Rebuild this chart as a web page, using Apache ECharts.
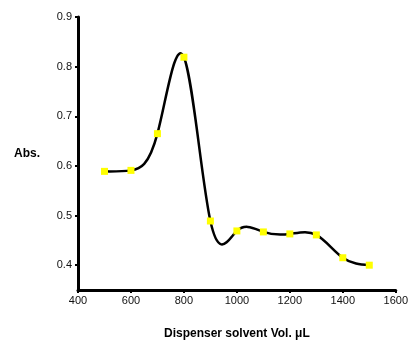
<!DOCTYPE html>
<html><head><meta charset="utf-8">
<script src="https://cdn.jsdelivr.net/npm/echarts@6/dist/echarts.min.js"></script>
<style>html,body{margin:0;padding:0;background:#fff}#c{width:411px;height:345px}</style>
</head><body><div id="c"></div>
<script>
var volumes = [500, 600, 700, 800, 900, 1000, 1100, 1200, 1300, 1400, 1500];
var absValues = [0.589, 0.591, 0.665, 0.819, 0.489, 0.469, 0.467, 0.463, 0.461, 0.415, 0.400];
var yTicks = [0.4, 0.5, 0.6, 0.7, 0.8, 0.9];
var yMinorTicks = [0.45, 0.55, 0.65, 0.75, 0.85];

// natural cubic spline slopes (rendering of the curve through the data points)
function splineSlopes(xs, ys) {
  var n = xs.length, h = [], i;
  for (i = 0; i < n - 1; i++) h.push(xs[i + 1] - xs[i]);
  var a = new Array(n).fill(0), b = new Array(n).fill(1), c = new Array(n).fill(0), d = new Array(n).fill(0);
  for (i = 1; i < n - 1; i++) {
    a[i] = h[i - 1] / 6; b[i] = (h[i - 1] + h[i]) / 3; c[i] = h[i] / 6;
    d[i] = (ys[i + 1] - ys[i]) / h[i] - (ys[i] - ys[i - 1]) / h[i - 1];
  }
  for (i = 1; i < n; i++) { var m = a[i] / b[i - 1]; b[i] -= m * c[i - 1]; d[i] -= m * d[i - 1]; }
  var M = new Array(n).fill(0);
  M[n - 1] = d[n - 1] / b[n - 1];
  for (i = n - 2; i >= 0; i--) M[i] = (d[i] - c[i] * M[i + 1]) / b[i];
  M[0] = 0; M[n - 1] = 0;
  var s = [];
  for (i = 0; i < n - 1; i++) {
    var sl = (ys[i + 1] - ys[i]) / h[i];
    s.push({l: sl - h[i] * (2 * M[i] + M[i + 1]) / 6, r: sl + h[i] * (M[i] + 2 * M[i + 1]) / 6});
  }
  return s;
}
var slopes = splineSlopes(volumes, absValues);

var chart = echarts.init(document.getElementById('c'));
var data = volumes.map(function (v, i) { return [v, absValues[i]]; });
var font = 'Liberation Sans';
chart.setOption({
  animation: false,
  grid: {left: 78, top: 17, width: 325, height: 276},
  xAxis: {
    type: 'value', min: 400, max: 1600, interval: 200,
    name: 'Dispenser solvent Vol. \u03bcL', nameLocation: 'middle', nameGap: 38,
    nameTextStyle: {fontFamily: font, fontWeight: 'bold', fontSize: 12, color: '#000'},
    axisLine: {show: true, lineStyle: {color: '#000', width: 3}},
    axisTick: {show: true, length: 3, lineStyle: {color: '#000', width: 2}},
    minorTick: {show: true, splitNumber: 2, length: 2, lineStyle: {color: '#000', width: 1.5}},
    axisLabel: {fontFamily: font, fontSize: 11, color: '#111', margin: 5,
      formatter: function (v) { return String(v); }},
    splitLine: {show: false}
  },
  yAxis: [{
    type: 'value', min: 0.35, max: 0.9,
    name: 'Abs.', nameLocation: 'middle', nameGap: 38, nameRotate: 0,
    nameTextStyle: {fontFamily: font, fontWeight: 'bold', fontSize: 12, color: '#000'},
    axisLine: {show: true, lineStyle: {color: '#000', width: 3}},
    axisTick: {show: true, length: 3, customValues: yTicks, lineStyle: {color: '#000', width: 2}},
    axisLabel: {fontFamily: font, fontSize: 11, color: '#111', margin: 6, customValues: yTicks,
      formatter: function (v) { return v.toFixed(1); }},
    splitLine: {show: false}
  }, {
    type: 'value', min: 0.35, max: 0.9, position: 'left',
    axisLine: {show: false},
    axisTick: {show: true, length: 2, inside: true, customValues: yMinorTicks, lineStyle: {color: '#000', width: 1.5}},
    axisLabel: {show: false},
    splitLine: {show: false}
  }],
  series: [{
    type: 'custom',
    data: data,
    z: 2,
    renderItem: function (params, api) {
      var i = params.dataIndex;
      if (i >= volumes.length - 1) return null;
      var x0 = volumes[i], x1 = volumes[i + 1], y0 = absValues[i], y1 = absValues[i + 1];
      var h = x1 - x0;
      var p0 = api.coord([x0, y0]);
      var p1 = api.coord([x0 + h / 3, y0 + slopes[i].l * h / 3]);
      var p2 = api.coord([x1 - h / 3, y1 - slopes[i].r * h / 3]);
      var p3 = api.coord([x1, y1]);
      return {
        type: 'bezierCurve',
        shape: {x1: p0[0], y1: p0[1], cpx1: p1[0], cpy1: p1[1], cpx2: p2[0], cpy2: p2[1], x2: p3[0], y2: p3[1]},
        style: {stroke: '#000', lineWidth: 2.5, fill: null, lineCap: 'round'}
      };
    }
  }, {
    type: 'scatter', data: data,
    symbol: 'rect', symbolSize: 7,
    itemStyle: {color: '#ffff00', borderWidth: 0, opacity: 1},
    z: 3
  }]
});
</script></body></html>
